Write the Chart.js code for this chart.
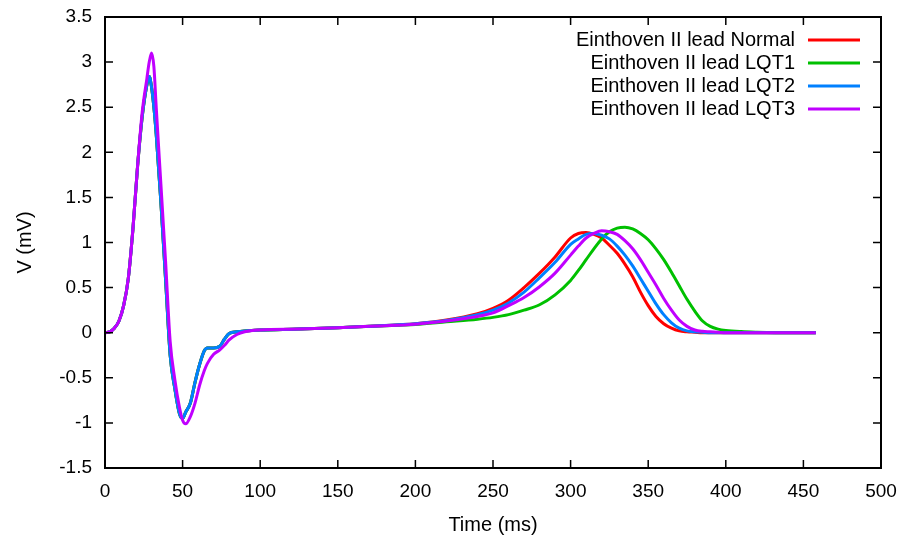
<!DOCTYPE html>
<html lang="en">
<head>
  <meta charset="UTF-8" />
  <title>Einthoven II lead</title>
  <script src="https://cdn.jsdelivr.net/npm/chart.js"></script>
  <style>
    html, body { margin: 0; padding: 0; background: #fff; }
    #wrap { width: 906px; height: 540px; }
  </style>
</head>
<body>
  <div id="wrap"><canvas id="ecg" width="906" height="540"></canvas></div>

  <script>
    // time axis (ms), shared by all four traces
    const timeMs = [0, 3, 6, 9, 12, 15, 18, 21, 24, 27, 28.5, 30, 31.5, 33, 36, 39, 42, 45, 48, 50, 52, 55, 58, 61, 64, 66, 70, 74, 77, 80, 85, 90,
      100, 125, 150, 175, 200, 220, 240, 250, 260, 270, 280, 290, 300, 305, 310, 315, 320, 325, 330, 335, 340, 345, 350, 355, 360,
      365, 370, 375, 380, 385, 390, 395, 400, 410, 420, 440, 458];

    // QRS complex: Normal, LQT1 and LQT2 share it
    const qrsShared = [0, 0.01, 0.05, 0.13, 0.3, 0.6, 1.15, 1.85, 2.4, 2.75, 2.84, 2.72, 2.5, 2.2, 1.45, 0.6, -0.25, -0.62, -0.9, -0.95, -0.88, -0.78,
      -0.55, -0.35, -0.2, -0.17, -0.17, -0.15, -0.07, -0.01, 0.01, 0.02];
    const qrsLqt3 = [0, 0.01, 0.05, 0.13, 0.3, 0.6, 1.15, 1.85, 2.45, 2.82, 3.0, 3.1, 2.95, 2.5, 1.65, 0.8, -0.1, -0.52, -0.83, -0.97, -1.01, -0.93,
      -0.78, -0.58, -0.42, -0.34, -0.24, -0.19, -0.14, -0.08, -0.02, 0.01];

    // ST segment + T wave (t = 100 ms onwards)
    const tNormal = [0.03, 0.04, 0.055, 0.075, 0.1, 0.14, 0.21, 0.27, 0.36, 0.5, 0.66, 0.84, 1.05, 1.1, 1.11, 1.09, 1.05, 0.97, 0.88, 0.76, 0.62,
      0.45, 0.3, 0.18, 0.1, 0.05, 0.02, 0.01, 0.005, 0, 0, 0, 0, 0, 0, 0, 0];
    const tLqt1 = [0.03, 0.04, 0.055, 0.075, 0.09, 0.12, 0.15, 0.17, 0.2, 0.25, 0.31, 0.42, 0.58, 0.69, 0.81, 0.93, 1.04, 1.12, 1.16, 1.17, 1.15,
      1.1, 1.03, 0.93, 0.81, 0.67, 0.52, 0.37, 0.24, 0.13, 0.07, 0.04, 0.025, 0.012, 0.006, 0, 0];
    const tLqt2 = [0.03, 0.04, 0.055, 0.075, 0.1, 0.135, 0.2, 0.25, 0.33, 0.45, 0.61, 0.78, 0.98, 1.04, 1.09, 1.1, 1.08, 1.04, 0.96, 0.86, 0.74,
      0.6, 0.46, 0.32, 0.2, 0.11, 0.05, 0.02, 0.01, 0.005, 0, 0, 0, 0, 0, 0, 0];
    const tLqt3 = [0.03, 0.04, 0.055, 0.075, 0.095, 0.13, 0.18, 0.22, 0.3, 0.39, 0.51, 0.66, 0.86, 0.96, 1.05, 1.1, 1.13, 1.12, 1.09, 1.02, 0.93,
      0.81, 0.67, 0.53, 0.38, 0.25, 0.14, 0.07, 0.03, 0.015, 0.01, 0.005, 0, 0, 0, 0, 0];

    const seriesNames = ['Einthoven II lead Normal', 'Einthoven II lead LQT1', 'Einthoven II lead LQT2', 'Einthoven II lead LQT3'];
    const seriesColors = ['#ff0000', '#00c000', '#0080ff', '#c000ff'];
    const seriesValues = [
      qrsShared.concat(tNormal),
      qrsShared.concat(tLqt1),
      qrsShared.concat(tLqt2),
      qrsLqt3.concat(tLqt3)
    ];

    const FONT = 'Liberation Sans, Arial, Helvetica, sans-serif';

    // gnuplot style frame: inward ticks on all four sides + box
    const framePlugin = {
      id: 'frame',
      afterDraw(chart) {
        const { ctx, chartArea: a, scales: { x, y } } = chart;
        const len = 8;
        ctx.save();
        ctx.strokeStyle = '#000';
        ctx.lineWidth = 1.5;
        ctx.beginPath();
        x.ticks.forEach(t => {
          const px = x.getPixelForValue(t.value);
          ctx.moveTo(px, a.bottom); ctx.lineTo(px, a.bottom - len);
          ctx.moveTo(px, a.top); ctx.lineTo(px, a.top + len);
        });
        y.ticks.forEach(t => {
          const py = y.getPixelForValue(t.value);
          ctx.moveTo(a.left, py); ctx.lineTo(a.left + len, py);
          ctx.moveTo(a.right, py); ctx.lineTo(a.right - len, py);
        });
        ctx.stroke();
        ctx.lineWidth = 2;
        ctx.strokeRect(a.left, a.top, a.right - a.left, a.bottom - a.top);
        ctx.restore();
      }
    };

    // legend: right aligned text, sample line to the right
    const keyPlugin = {
      id: 'key',
      afterDraw(chart) {
        const { ctx } = chart;
        ctx.save();
        ctx.font = '20px ' + FONT;
        ctx.textAlign = 'right';
        ctx.textBaseline = 'middle';
        chart.data.datasets.forEach((ds, i) => {
          const yy = 40 + i * 23;
          ctx.fillStyle = '#000';
          ctx.fillText(ds.label, 795, yy);
          ctx.strokeStyle = ds.borderColor;
          ctx.lineWidth = 3;
          ctx.beginPath();
          ctx.moveTo(808, yy); ctx.lineTo(860, yy);
          ctx.stroke();
        });
        ctx.restore();
      }
    };

    new Chart(document.getElementById('ecg'), {
      type: 'line',
      data: {
        datasets: seriesNames.map((name, i) => ({
          label: name,
          data: timeMs.map((t, k) => ({ x: t, y: seriesValues[i][k] })),
          borderColor: seriesColors[i],
          borderWidth: 3,
          pointRadius: 0,
          fill: false,
          cubicInterpolationMode: 'monotone',
          order: 3 - i
        }))
      },
      options: {
        responsive: false,
        animation: false,
        layout: { padding: { left: 0, top: 17, right: 25, bottom: 0 } },
        plugins: { legend: { display: false }, tooltip: { enabled: false } },
        scales: {
          x: {
            type: 'linear',
            min: 0, max: 500,
            afterFit: s => { s.height = 72; s.paddingLeft = 0; s.paddingRight = 0; },
            grid: { display: false, drawTicks: false },
            border: { display: false },
            ticks: { stepSize: 50, color: '#000', padding: 12, maxRotation: 0, font: { family: FONT, size: 19 } },
            title: { display: true, text: 'Time (ms)', color: '#000', padding: { top: 0, bottom: 3 }, font: { family: FONT, size: 20 } }
          },
          y: {
            min: -1.5, max: 3.5,
            afterFit: s => { s.width = 105; s.paddingTop = 0; s.paddingBottom = 0; },
            grid: { display: false, drawTicks: false },
            border: { display: false },
            ticks: { stepSize: 0.5, color: '#000', padding: 13, font: { family: FONT, size: 19 }, callback: v => String(v) },
            title: { display: true, text: 'V (mV)', color: '#000', padding: { top: 13, bottom: 0 }, font: { family: FONT, size: 20 } }
          }
        }
      },
      plugins: [framePlugin, keyPlugin]
    });
  </script>
</body>
</html>
